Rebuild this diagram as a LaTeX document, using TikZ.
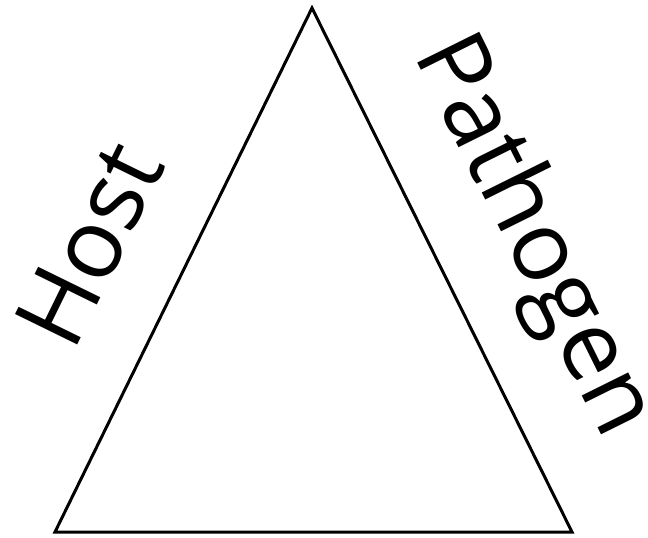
\documentclass[tikz,border=0pt]{standalone}
\usepackage{fontspec}
\setmainfont{Open Sans}
\begin{document}
\begin{tikzpicture}[x=1pt,y=-1pt,
  lbl/.style={anchor=base,inner sep=0pt,font=\fontsize{97}{97}\selectfont}]
\useasboundingbox (0,0) rectangle (648,538);
\coordinate (top) at (312,8);
\coordinate (bl) at (55,532);
\coordinate (br) at (572,532);
\draw[line width=3pt,line join=miter] (top) -- (bl) -- (br) -- cycle;
\node[lbl,rotate=63.9] (host) at (120,259) {Host};
\node[lbl,rotate=-63.6] (pathogen) at (509,248) {Pathogen};
\end{tikzpicture}
\end{document}
